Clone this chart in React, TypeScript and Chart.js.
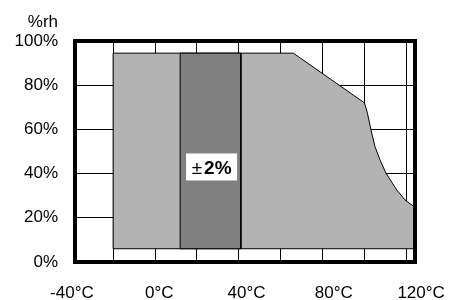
import React, { useEffect, useRef } from 'react';
import { Chart, registerables } from 'chart.js';

Chart.register(...registerables);

// Tick labels / grid values
const tempLabelTicks = [-40, 0, 40, 80, 120];
const tempGridTicks = [-20, 0, 20, 40, 60, 80, 100, 120];
const rhGridTicks = [0, 10, 20, 30, 40, 50, 60, 70, 80, 90, 100];

// Operating range outline (°C, %rh)
const rangeTemp = [-20, -20, 66, 100, 101.4, 103.1, 105, 107.4, 110.3, 115.4, 119.3, 124, 124, -20];
const rangeRh = [6, 94.5, 94.5, 72, 67.3, 59.7, 52.2, 46.2, 40.1, 32.6, 28.1, 24.8, 6, 6];

// ±2% accuracy band
const bandTemp = [12, 12, 41, 41, 12];
const bandRh = [6, 94.5, 94.5, 6, 6];

// Divider at 80°C
const dividerTemp = [80, 80];
const dividerRh = [6, 85];

const accuracySign = '±';
const accuracyValue = '2%';
const accuracyTemp = 27;
const accuracyRh = 43;
const rhUnit = '%rh';

const FONT = '"Liberation Sans", Arial, sans-serif';

const toPoints = (xs: number[], ys: number[]) => xs.map((x, i) => ({ x, y: ys[i] }));

const decorPlugin = {
  id: 'decor',
  afterDatasetsDraw(chart: any) {
    const { ctx, chartArea, scales } = chart;
    const xs = scales.x;
    const ys = scales.y;
    ctx.save();
    // annotation box
    const cx = xs.getPixelForValue(accuracyTemp);
    const cy = ys.getPixelForValue(accuracyRh);
    const bw = 51;
    const bh = 27;
    ctx.fillStyle = '#ffffff';
    ctx.fillRect(cx - bw / 2, cy - bh / 2, bw, bh);
    ctx.fillStyle = '#000000';
    ctx.textBaseline = 'alphabetic';
    ctx.font = `19px ${FONT}`;
    const w1 = ctx.measureText(accuracySign).width;
    ctx.font = `bold 19px ${FONT}`;
    const w2 = ctx.measureText(accuracyValue).width;
    const startX = cx - (w1 + w2 + 2) / 2;
    const base = cy + 7;
    ctx.textAlign = 'left';
    ctx.font = `19px ${FONT}`;
    ctx.fillText(accuracySign, startX, base);
    ctx.font = `bold 19px ${FONT}`;
    ctx.fillText(accuracyValue, startX + w1 + 2, base);
    // frame
    ctx.lineWidth = 4;
    ctx.strokeStyle = '#000000';
    ctx.strokeRect(chartArea.left, chartArea.top, chartArea.right - chartArea.left, chartArea.bottom - chartArea.top);
    // unit label
    ctx.font = `17px ${FONT}`;
    ctx.textAlign = 'right';
    ctx.textBaseline = 'alphabetic';
    ctx.fillText(rhUnit, ys.right - 17, 19);
    ctx.restore();
  },
};

const noPad = (s: any) => {
  s.paddingLeft = 0;
  s.paddingRight = 0;
  s.paddingTop = 0;
  s.paddingBottom = 0;
};

export default function App() {
  const canvasRef = useRef<HTMLCanvasElement | null>(null);

  useEffect(() => {
    if (!canvasRef.current) return;
    const chart = new Chart(canvasRef.current, {
      type: 'line',
      data: {
        datasets: [
          {
            data: toPoints(bandTemp, bandRh),
            backgroundColor: '#808080',
            borderColor: '#000000',
            borderWidth: 1,
            pointRadius: 0,
            fill: 'shape',
            tension: 0,
          },
          {
            data: toPoints(rangeTemp, rangeRh),
            backgroundColor: '#b3b3b3',
            borderColor: '#000000',
            borderWidth: 1,
            pointRadius: 0,
            fill: 'shape',
            tension: 0,
          },
          {
            data: toPoints(dividerTemp, dividerRh),
            borderColor: '#000000',
            borderWidth: 1,
            pointRadius: 0,
            fill: false,
          },
        ],
      },
      options: {
        animation: false,
        responsive: true,
        maintainAspectRatio: false,
        layout: { padding: { top: 33, right: 32, left: 0, bottom: 0 } },
        plugins: {
          legend: { display: false },
          tooltip: { enabled: false },
        },
        scales: {
          x: {
            type: 'linear',
            position: 'bottom',
            min: -38.2,
            max: 124.1,
            afterBuildTicks: (s: any) => {
              s.ticks = tempGridTicks.map((v) => ({ value: v }));
            },
            afterFit: (s: any) => {
              s.height = 0;
              noPad(s);
            },
            ticks: { display: false },
            grid: { display: true, color: '#000000', lineWidth: 1, drawTicks: false },
            border: { display: false },
          },
          xl: {
            type: 'linear',
            position: 'bottom',
            min: -38.6,
            max: 117.2,
            afterBuildTicks: (s: any) => {
              s.ticks = tempLabelTicks.map((v) => ({ value: v }));
            },
            afterFit: (s: any) => {
              s.height = 38;
              noPad(s);
            },
            ticks: {
              autoSkip: false,
              maxRotation: 0,
              padding: 21,
              color: '#000000',
              font: { family: FONT, size: 17 },
              callback: (v: any) => `${v}°C`,
            },
            grid: { display: false, drawTicks: false },
            border: { display: false },
          },
          y: {
            type: 'linear',
            position: 'left',
            min: 0,
            max: 100,
            afterBuildTicks: (s: any) => {
              s.ticks = rhGridTicks.map((v) => ({ value: v }));
            },
            afterFit: (s: any) => {
              s.width = 67;
              noPad(s);
            },
            ticks: {
              padding: 17,
              color: '#000000',
              font: { family: FONT, size: 17 },
              callback: (v: any) => (Number(v) % 20 === 0 ? `${v}%` : ''),
            },
            grid: { display: true, color: '#000000', lineWidth: 1, drawTicks: false },
            border: { display: false },
          },
        },
      },
      plugins: [decorPlugin],
    } as any);
    return () => chart.destroy();
  }, []);

  return (
    <div style={{ width: 439, height: 292, position: 'relative' }}>
      <canvas ref={canvasRef} />
    </div>
  );
}
